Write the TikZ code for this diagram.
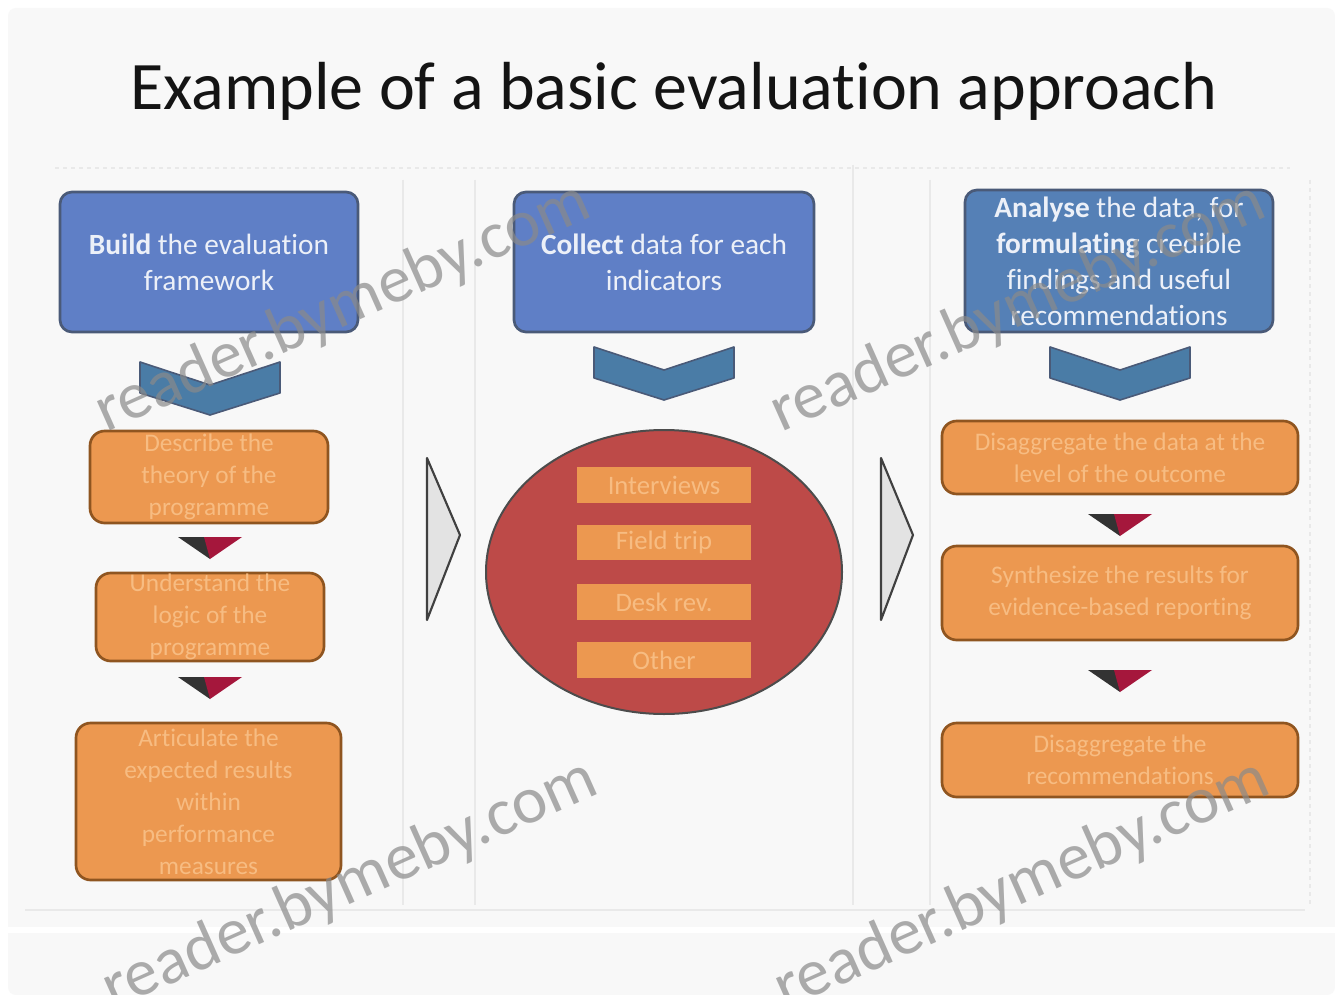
\documentclass[tikz,border=0pt]{standalone}
\usepackage{fontspec}
\setmainfont[Ligatures=NoCommon]{Carlito}
\usetikzlibrary{calc,shapes.geometric}
\definecolor{pagebg}{HTML}{F8F8F8}
\definecolor{bluefill}{HTML}{5F7FC6}
\definecolor{bluedeep}{HTML}{5580B6}
\definecolor{blueedge}{HTML}{4A5A78}
\definecolor{bluechev}{HTML}{4A7CA6}
\definecolor{orangefill}{HTML}{EC9850}
\definecolor{orangeedge}{HTML}{8F5520}
\definecolor{orangetext}{HTML}{F7BC82}
\definecolor{ellipsefill}{HTML}{BD4A48}
\definecolor{crim}{HTML}{A5173C}
\definecolor{rulegrey}{HTML}{E9E9E9}
\definecolor{markgrey}{HTML}{8A8A8A}
\tikzset{
  x=0.75pt,y=-0.75pt,
  boxbase/.style={rectangle,inner sep=0pt,outer sep=0pt,align=center,line width=2pt},
  bluebox/.style={boxbase,rounded corners=9pt,fill=bluefill,draw=blueedge,text=white!88!bluefill,font=\fontsize{22}{27}\selectfont},
  orangebox/.style={boxbase,rounded corners=11pt,fill=orangefill,draw=orangeedge,text=orangetext,font=\fontsize{19}{24}\selectfont},
  listbox/.style={boxbase,line width=0pt,fill=orangefill,text=orangetext,font=\fontsize{20}{22}\selectfont},
  chevron/.style={fill=bluechev,draw=blueedge,line width=1.2pt,line join=round},
  bigarrow/.style={fill=gray!22,draw=black!75,line width=1.6pt,line join=round},
  panelrule/.style={draw=rulegrey,line width=1.5pt},
  watermark/.style={rotate=24,text=markgrey,opacity=.7,font=\fontsize{50}{50}\selectfont,inner sep=0pt},
}
% style, name, x1, y1, x2, y2, text
\newcommand\boxat[7]{%
  \pgfmathsetlengthmacro\bw{(#5-#3)*0.75pt}%
  \pgfmathsetlengthmacro\bh{(#6-#4)*0.75pt}%
  \node[#1,minimum width=\bw,minimum height=\bh] (#2) at ({(#3+#5)/2},{(#4+#6)/2}) {#7};}
% centre x, top y
\newcommand\chev[2]{%
  \path[chevron] (#1-70,#2) -- (#1,#2+23) -- (#1+70,#2) -- (#1+70,#2+31) -- (#1,#2+53) -- (#1-70,#2+31) -- cycle;}
\newcommand\drop[2]{%
  \fill[black!80] (#1-32,#2) -- (#1,#2) -- (#1,#2+22) -- cycle;
  \fill[crim] (#1+32,#2) -- (#1-6,#2) -- (#1,#2+22) -- cycle;}
\begin{document}
\begin{tikzpicture}
\useasboundingbox (0,0) rectangle (1335,995);
\fill[white] (0,0) rectangle (1335,995);
\fill[pagebg,rounded corners=6pt] (8,8) rectangle (1335,995);

\node[font=\fontsize{51}{56}\selectfont,text=black!92,inner sep=0pt] (title) at (674,91) {Example of a basic evaluation approach};

% panel rules
\draw[panelrule,dashed] (55,168) -- (1290,168);
\draw[panelrule] (25,910) -- (1305,910);
\draw[panelrule] (403,180) -- (403,905);
\draw[panelrule] (475,180) -- (475,905);
\draw[panelrule] (853,165) -- (853,905);
\draw[panelrule] (930,180) -- (930,905);
\draw[panelrule,dashed] (1310,180) -- (1310,905);
\fill[white] (8,927) rectangle (1335,933);

% left column
\boxat{bluebox}{b1}{60}{192}{358}{332}{\textbf{Build} the evaluation\\framework}
\chev{210}{362}
\boxat{orangebox}{l1}{90}{431}{328}{523}{Describe the\\theory of the\\programme}
\drop{210}{537}
\boxat{orangebox}{l2}{96}{573}{324}{661}{Understand the\\logic of the\\programme}
\drop{210}{677}
\boxat{orangebox}{l3}{76}{723}{341}{880}{Articulate the\\expected results\\within\\performance\\measures}

% middle column
\boxat{bluebox}{b2}{514}{192}{814}{332}{\textbf{Collect} data for each\\indicators}
\chev{664}{347}
\node[ellipse,draw=black!70,line width=1.5pt,fill=ellipsefill,minimum width=267pt,minimum height=213pt,inner sep=0pt] (methods) at (664,572) {};
\boxat{listbox}{m1}{577}{467}{751}{503}{Interviews}
\boxat{listbox}{m2}{577}{525}{751}{560}{Field trip}
\boxat{listbox}{m3}{577}{584}{751}{620}{Desk rev.}
\boxat{listbox}{m4}{577}{642}{751}{678}{Other}

% right column
\boxat{bluebox,fill=bluedeep}{b3}{965}{190}{1273}{332}{\textbf{Analyse} the data, for\\\textbf{formulating} credible\\findings and useful\\recommendations}
\chev{1120}{347}
\boxat{orangebox}{r1}{942}{421}{1298}{494}{Disaggregate the data at the\\level of the outcome}
\drop{1120}{514}
\boxat{orangebox}{r2}{942}{546}{1298}{640}{Synthesize the results for\\evidence-based reporting}
\drop{1120}{670}
\boxat{orangebox}{r3}{942}{723}{1298}{797}{Disaggregate the\\recommendations}

% arrows between columns
\path[bigarrow] (427,458) -- (460,535) -- (427,620) -- cycle;
\path[bigarrow] (881,458) -- (913,535) -- (881,620) -- cycle;

% watermarks
\node[watermark] (w1) at (343,308) {reader.bymeby.com};
\node[watermark] (w2) at (1018,308) {reader.bymeby.com};
\begin{scope}
\clip (0,0) rectangle (1335,995);
\node[watermark] (w3) at (350,885) {reader.bymeby.com};
\node[watermark] (w4) at (1022,885) {reader.bymeby.com};
\end{scope}
\end{tikzpicture}
\end{document}
